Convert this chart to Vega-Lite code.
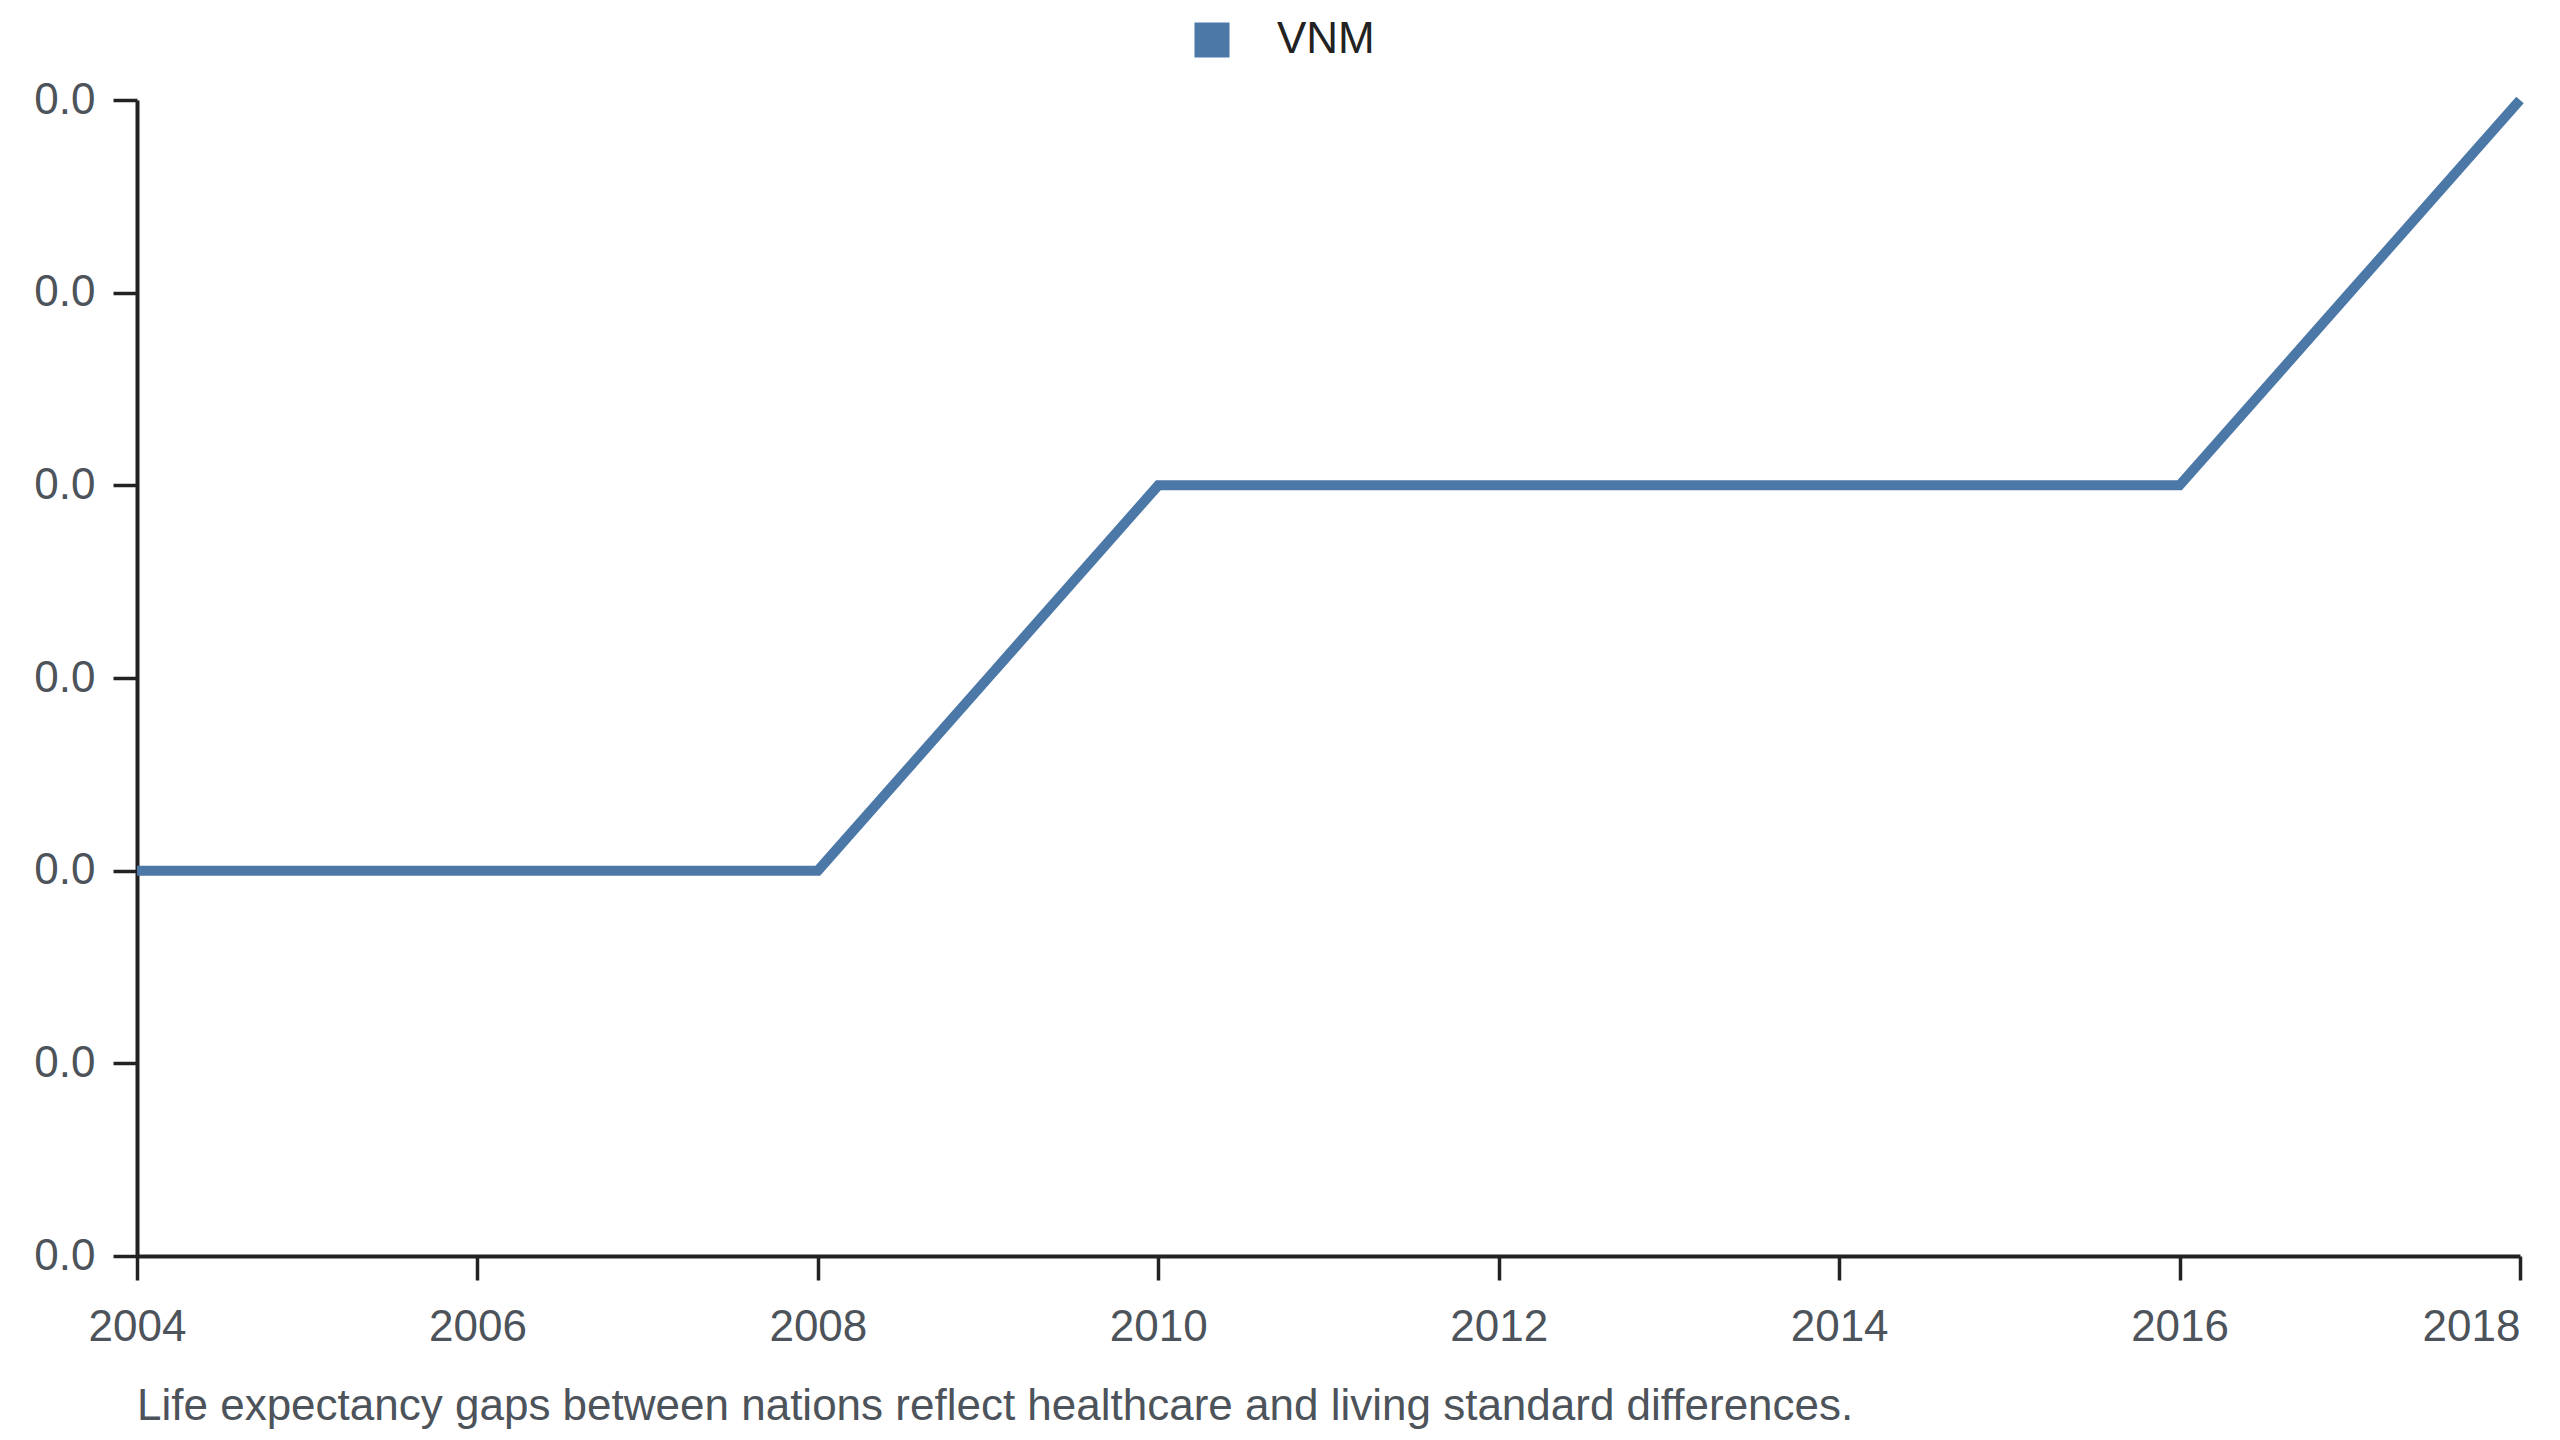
{
  "$schema": "https://vega.github.io/schema/vega-lite/v6.json",
  "width": 2383,
  "height": 1156,
  "autosize": {"type": "none"},
  "padding": {"left": 137, "top": 100, "right": 40, "bottom": 184},
  "background": "white",
  "config": {
    "view": {"stroke": null},
    "font": "Liberation Sans",
    "axis": {
      "grid": false,
      "domainColor": "#222",
      "domainWidth": 4,
      "tickColor": "#222",
      "tickWidth": 3.5,
      "tickSize": 24,
      "labelFont": "Liberation Sans",
      "labelFontSize": 44,
      "labelColor": "#4d535a",
      "title": null
    }
  },
  "title": {
    "text": "Life expectancy gaps between nations reflect healthcare and living standard differences.",
    "orient": "bottom",
    "anchor": "start",
    "frame": "group",
    "font": "Liberation Sans",
    "fontSize": 44,
    "fontWeight": "normal",
    "color": "#4d535a",
    "offset": 36
  },
  "data": {
    "values": [
      {"year": 2004, "country": "VNM", "value": 0.002},
      {"year": 2005, "country": "VNM", "value": 0.002},
      {"year": 2006, "country": "VNM", "value": 0.002},
      {"year": 2007, "country": "VNM", "value": 0.002},
      {"year": 2008, "country": "VNM", "value": 0.002},
      {"year": 2009, "country": "VNM", "value": 0.003},
      {"year": 2010, "country": "VNM", "value": 0.004},
      {"year": 2011, "country": "VNM", "value": 0.004},
      {"year": 2012, "country": "VNM", "value": 0.004},
      {"year": 2013, "country": "VNM", "value": 0.004},
      {"year": 2014, "country": "VNM", "value": 0.004},
      {"year": 2015, "country": "VNM", "value": 0.004},
      {"year": 2016, "country": "VNM", "value": 0.004},
      {"year": 2017, "country": "VNM", "value": 0.005},
      {"year": 2018, "country": "VNM", "value": 0.006}
    ]
  },
  "mark": {"type": "line", "strokeWidth": 10, "strokeCap": "butt", "strokeJoin": "miter"},
  "encoding": {
    "x": {
      "field": "year",
      "type": "quantitative",
      "scale": {"domain": [2004, 2018], "nice": false, "zero": false},
      "axis": {
        "values": [2004, 2006, 2008, 2010, 2012, 2014, 2016, 2018],
        "format": "d",
        "labelFlush": false,
        "labelOverlap": false,
        "labelPadding": 25,
        "labelAlign": {"condition": {"test": "datum.value == 2018", "value": "right"}, "value": "center"}
      }
    },
    "y": {
      "field": "value",
      "type": "quantitative",
      "scale": {"domain": [0, 0.006], "nice": false},
      "axis": {
        "values": [0, 0.001, 0.002, 0.003, 0.004, 0.005, 0.006],
        "format": ".1f",
        "labelPadding": 18
      }
    },
    "color": {
      "field": "country",
      "type": "nominal",
      "scale": {"range": ["#4c78a8"]},
      "legend": {
        "orient": "none",
        "legendX": 1053,
        "legendY": -82,
        "title": null,
        "symbolType": "square",
        "symbolSize": 1225,
        "symbolFillColor": "#4c78a8",
        "symbolStrokeWidth": 0,
        "symbolOpacity": 1,
        "labelFont": "Liberation Sans",
        "labelFontSize": 44,
        "labelColor": "#222",
        "labelOffset": 43,
        "padding": 0
      }
    }
  }
}
